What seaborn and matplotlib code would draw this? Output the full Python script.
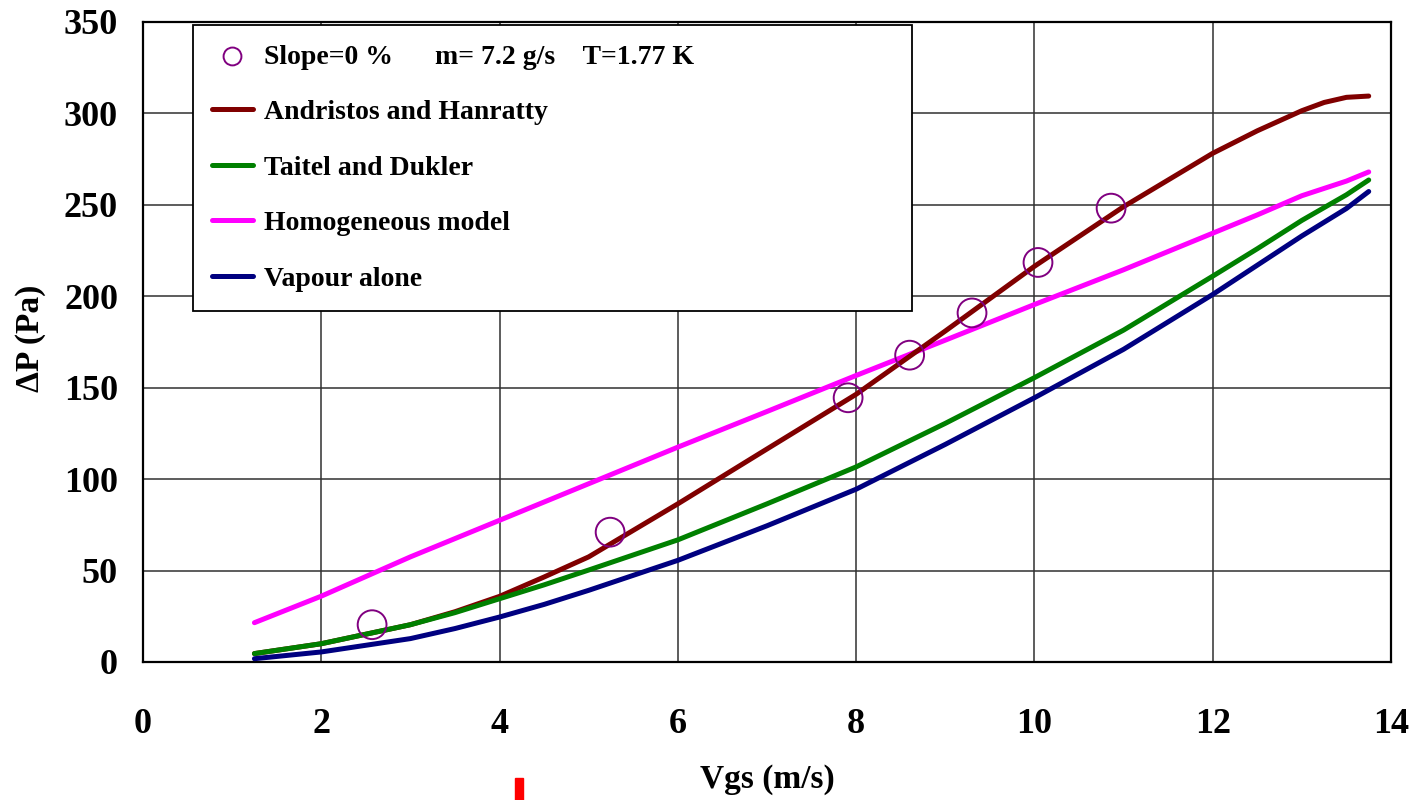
import numpy as np
import pandas as pd
import matplotlib
matplotlib.use("Agg")
import matplotlib.pyplot as plt
import seaborn as sns
from matplotlib.patches import Rectangle

# Gas superficial velocity grid used for the model curves (m/s)
vgs = [1.25, 2, 3, 3.5, 4, 4.5, 5, 6, 7, 8, 9, 10, 11, 12, 12.5, 13, 13.25,
       13.5, 13.75]

# Pressure drop predicted by each model (Pa)
andritsos = [4.6, 10, 20.4, 27.5, 35.9, 46.5, 57.5, 86.5, 116.5, 146.4, 181.0,
             216.4, 249.0, 278.2, 290.5, 301.5, 306.0, 308.8, 309.5]
taitel = [4.6, 10, 20.4, 27.0, 34.6, 42.2, 50.3, 66.8, 86.5, 106.7, 130.5,
          155.5, 181.5, 211.0, 226.0, 241.5, 248.5, 255.5, 263.6]
homogeneous = [21.5, 36, 57.5, 67.5, 77.5, 87.5, 97.5, 117.5, 137.0, 156.7,
               176.0, 195.5, 214.5, 234.5, 244.5, 255.0, 259.0, 263.0, 268.0]
vapour = [1.8, 5.5, 12.8, 18.3, 24.6, 31.5, 39.2, 55.6, 74.5, 94.5, 119.0,
          144.5, 171.0, 201.0, 217.0, 233.0, 240.5, 248.0, 257.3]

# Measured points
meas_vgs = [2.57, 5.24, 7.91, 8.60, 9.30, 10.04, 10.86]
meas_dp = [20.4, 71.0, 144.5, 167.8, 190.9, 218.5, 248.2]

model_names = ["Andristos and Hanratty", "Taitel and Dukler",
               "Homogeneous model", "Vapour alone"]
model_values = [andritsos, taitel, homogeneous, vapour]
model_colors = ["#800000", "#008000", "#FF00FF", "#000080"]
meas_label = "Slope=0 %      m= 7.2 g/s    T=1.77 K"

x_ticks = [0, 2, 4, 6, 8, 10, 12, 14]
y_ticks = [0, 50, 100, 150, 200, 250, 300, 350]

sns.set_style("white")
plt.rcParams["font.family"] = ["Liberation Serif", "DejaVu Serif"]
plt.rcParams["font.weight"] = "bold"
plt.rcParams["text.color"] = "black"
plt.rcParams["axes.labelcolor"] = "black"
plt.rcParams["xtick.color"] = "black"
plt.rcParams["ytick.color"] = "black"

fig = plt.figure(figsize=(14.23, 8), dpi=100)
ax = fig.add_axes([143 / 1423, 1 - 662 / 800, 1248 / 1423, 640 / 800])

# Draw order: magenta first, then brown, green on top of brown, navy last
draw_order = [2, 0, 1, 3]
for k, i in enumerate(draw_order):
    sns.lineplot(x=vgs, y=model_values[i], color=model_colors[i],
                 linewidth=3.6, solid_capstyle="round", solid_joinstyle="round",
                 ax=ax, label=model_names[i], zorder=3 + k)

sns.scatterplot(x=meas_vgs, y=meas_dp, marker="o", s=430,
                facecolor="none", edgecolor="#800080", linewidth=1.4,
                ax=ax, label=meas_label, zorder=10)

ax.set_xlim(0, 14)
ax.set_ylim(0, 350)
ax.set_xticks(x_ticks)
ax.set_yticks(y_ticks)
ax.grid(True, color="#303030", linewidth=1.1)
ax.set_axisbelow(True)
for s in ax.spines.values():
    s.set_color("black")
    s.set_linewidth(1.6)

ax.tick_params(axis="x", direction="out", length=9, width=1.1,
               color="#303030", labelcolor="black", pad=24, labelsize=26)
ax.tick_params(axis="y", direction="out", length=9, width=1.1,
               color="#303030", labelcolor="black", pad=9, labelsize=26)
for lab in ax.get_xticklabels() + ax.get_yticklabels():
    lab.set_fontweight("bold")

ax.set_xlabel("Vgs (m/s)", fontsize=24, fontweight="bold", color="black")
ax.set_ylabel("ΔP (Pa)", fontsize=24, fontweight="bold", color="black")
ax.xaxis.set_label_coords(0.5, -0.16)
ax.yaxis.set_label_coords(-0.078, 0.505)

# Legend: measured points first, then the models
h, l = ax.get_legend_handles_labels()
lookup = dict(zip(l, h))
order = [meas_label] + model_names
leg = ax.legend([lookup[k] for k in order], order,
                loc="upper left", bbox_to_anchor=(0.04, 0.5625, 0.576, 0.433),
                mode="expand", frameon=True, fancybox=False, shadow=False,
                prop={"family": "Liberation Serif", "weight": "bold", "size": 20},
                handlelength=1.45, handletextpad=0.4, labelspacing=1.08,
                borderpad=0.7, borderaxespad=0, markerscale=0.62)
for t in leg.get_texts():
    t.set_color("black")
leg.get_frame().set_edgecolor("black")
leg.get_frame().set_linewidth(1.3)
leg.get_frame().set_alpha(1)
leg.set_zorder(20)

# Small red mark under the axis title
fig.add_artist(Rectangle((515 / 1423, 0), 8 / 1423, 22 / 800,
                         transform=fig.transFigure, color="red"))

fig.savefig("out.png", dpi=100)
